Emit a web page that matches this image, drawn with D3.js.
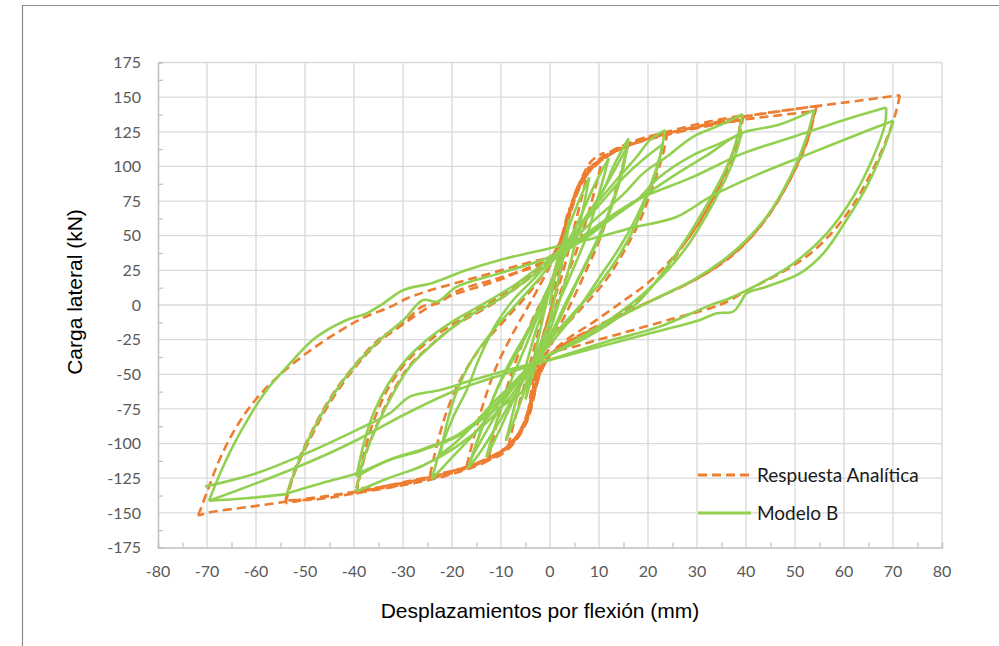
<!DOCTYPE html>
<html>
<head>
<meta charset="utf-8">
<script src="https://cdn.jsdelivr.net/npm/d3@7"></script>
<style>
  body { margin: 0; background: #fff; }
  svg { display: block; }
</style>
</head>
<body>
<svg id="chart" width="999" height="646"></svg>
<script>
// ---- data ----
var xTicks = [-80, -70, -60, -50, -40, -30, -20, -10, 0, 10, 20, 30, 40, 50, 60, 70, 80];
var yTicks = [-175, -150, -125, -100, -75, -50, -25, 0, 25, 50, 75, 100, 125, 150, 175];
var seriesNames = ['Respuesta Analítica', 'Modelo B'];

// Modelo B, one array per branch, in load order
var greenBranches = [
  [[0,0],[1.5,30],[3,48],[4,62]],
  [[4,62],[3,40],[1.5,15],[0,-10],[-2,-32],[-3.5,-50],[-5,-68]],
  [[-5,-68],[-3.5,-42],[-2,-18],[0,12],[2,38],[4,58],[6,76],[8,92]],
  [[8,92],[6.5,65],[4.5,35],[2.5,10],[0,-18],[-3,-42],[-5,-60],[-7,-80],[-9,-98]],
  [[-9,-98],[-7,-70],[-5,-45],[-3,-20],[0,12],[3,40],[6,62],[9,86],[12,106]],
  [[12,106],[10,80],[7.5,50],[4,20],[0,-12],[-4,-44],[-7,-65],[-10,-88],[-13,-110]],
  [[-13,-110],[-11,-85],[-8,-55],[-5,-30],[-1,5],[3,38],[7,62],[10.9,82.9],[12.9,99.7],[16,120.2]],
  [[16,120.2],[15,100],[13,75],[10,48],[6,20],[2,-10],[-2,-38],[-5,-52],[-8,-70],[-11,-88],[-14,-105],[-16.7,-117.8]],
  [[-16.7,-117.8],[-14,-90],[-11,-62],[-8,-40],[-4,-15],[0,15],[4,42],[8,66],[12,90],[15.6,113]],
  [[15.6,113],[14,88],[11,58],[7,28],[3,0],[0,-22],[-4,-45],[-8,-62],[-12,-85],[-16,-110]],
  [[-16,-110],[-13,-80],[-10,-55],[-6,-30],[-2,-2],[2,30],[6,55],[10,75],[14,92],[17.7,107],[20.4,119],[23.5,126.2]],
  [[23.5,126.2],[22.4,107],[20.4,85.3],[17.7,63.7],[14.3,42],[10.2,20.4],[6.1,-1.2],[2,-20],[-3,-40],[-8,-60],[-12,-78],[-16,-95],[-20,-110],[-24.1,-125.7]],
  [[-24.1,-125.7],[-22.4,-104.6],[-19.7,-80.5],[-17,-61.3],[-14.3,-37.3],[-10.9,-13.2],[-7.5,3.6],[-3,20],[1,36],[5,52],[10,72],[15,92],[19,105],[23,116]],
  [[23,116],[22,100],[20,80],[17.5,58],[14,35],[10,15],[5,-5],[0,-25],[-4,-43],[-8,-58],[-12,-72],[-16,-88],[-19.5,-100],[-22.4,-108]],
  [[-22.4,-108],[-21,-85],[-19,-62],[-16,-40],[-12,-20],[-7,0],[-2,20],[2,38],[8,58],[15,80],[19,95],[23.8,107],[29.2,121.4],[34.7,129.8],[39.3,137.7]],
  [[39.3,137.7],[38.1,119],[36.1,99.7],[33.3,80.5],[30.6,63.7],[27.2,44.5],[22.4,20.4],[17.7,1.2],[12.2,-13.2],[6,-26],[0,-36],[-4,-45],[-8,-66],[-13,-85],[-19,-102],[-26,-116],[-33,-125],[-39.5,-134.6]],
  [[-39.5,-134.6],[-38.1,-111.8],[-35.4,-87.8],[-32,-63.7],[-28.6,-44.5],[-24.5,-30],[-19.7,-15.6],[-15.6,-6],[-10,5],[-4,20],[2,36],[8,50],[13,64],[17.7,75.7],[22.4,92.5],[29.2,108.2],[34.7,116.6],[39.1,123.8]],
  [[39.1,123.8],[37.5,105],[35,85],[32,65],[28.5,45],[24,25],[19,8],[14,-6],[8,-20],[2,-32],[-4,-44],[-8,-60],[-13,-78],[-19,-94],[-26,-104],[-33,-112],[-39.5,-123.8]],
  [[-39.5,-123.8],[-38,-100],[-36,-78],[-33,-57],[-29,-38],[-24,-22],[-19,-10],[-13,2],[-7,15],[-2,28],[2,38],[10,56],[18,76],[26,95],[32,108],[39.1,124],[46.7,130],[53.9,140.6]],
  [[53.9,140.6],[52.4,121.4],[50.3,102.2],[47.6,82.9],[44.2,63.7],[40.1,46.9],[35.4,32.5],[29.2,18],[22.4,6],[15.6,-6],[8,-20],[2,-32],[-4,-44],[-5.4,-61.3],[-12.2,-78.1],[-19,-95],[-25.9,-104.6],[-32.7,-111.8],[-39.4,-121.4],[-47,-129],[-53.7,-136]],
  [[-53.7,-136],[-51.7,-116.6],[-49,-95],[-44.9,-68.5],[-39.4,-42],[-34,-22.9],[-29.9,-10.8],[-25.9,3.6],[-23,2.4],[-19,13.2],[-10.2,23],[0,34.8],[6,48],[12,63],[17.7,75.7],[29.2,92.5],[39.4,109.4],[49.7,121.4],[59.9,133.4],[68.6,142.5]],
  [[68.6,142.5],[68.4,131],[66,107],[61.9,78.1],[56.5,51.7],[49.7,30],[42.9,15.6],[37.4,6],[32,-1.2],[22.4,-15.6],[12,-26],[3,-36],[-4,-44],[-19,-61.3],[-29.2,-78.1],[-39.4,-97.4],[-49.7,-114.2],[-59.9,-128.6],[-69.6,-141.3]],
  [[-69.6,-141.3],[-62,-139.5],[-53.7,-136.5]],
  [[-69.6,-141.3],[-66.7,-116.6],[-63.3,-92.5],[-57.8,-61.3],[-53,-42],[-48,-24],[-41.5,-10.8],[-37.4,-6],[-34,1.2],[-29.9,10.8],[-24,15.9],[-17,25.2],[-10.2,32.5],[0,41],[10.2,49.3],[16.3,55.3],[25.9,63.7],[32.7,78.1],[42.9,95],[53.1,109.4],[63.3,123.8],[70.1,132.9]],
  [[70.1,132.9],[68,111.8],[64.6,85.3],[60.5,61.3],[55.8,37.3],[51,22.8],[44.2,13.2],[40.1,8.4],[38.8,1.2],[37.4,-4.8],[34,-6],[30.6,-10.8],[20.4,-20.4],[10.2,-30],[0,-39.7],[-6.1,-44.5],[-15.6,-54],[-22.4,-61.3],[-28.6,-66.1],[-32.7,-78.1],[-39.4,-90.1],[-49.7,-107],[-59.9,-121.4],[-70.4,-131]]
];

// Respuesta Analitica, one array per branch
var orangeBranches = [
  [[0,0],[1,20],[2,40],[3,58],[4,70]],
  [[4,70],[3,45],[2,20],[0.5,0],[-1,-20],[-2.5,-45],[-3.5,-62],[-4.5,-78]],
  [[-4.5,-78],[-3.5,-55],[-2,-30],[0,-5],[1.5,20],[2.5,40],[4,65],[6,85],[8,100]],
  [[8,100],[6.5,78],[4.5,50],[2.5,22],[0,-5],[-2,-30],[-3,-50],[-4,-70],[-6,-90],[-8.5,-102]],
  [[-8.5,-102],[-7,-80],[-5,-55],[-3,-28],[-1,0],[1,25],[2.5,45],[4,68],[6,88],[8.5,104],[11,110]],
  [[11,110],[9.5,88],[7.5,62],[5,35],[2,8],[0,-15],[-2,-40],[-3,-58],[-4.5,-78],[-7,-96],[-10,-106],[-12.5,-110]],
  [[-12.5,-110],[-11,-88],[-9,-62],[-6.5,-36],[-3.5,-10],[0,15],[2,36],[3.5,58],[5,78],[7.5,95],[10.5,106],[13,111],[16,116]],
  [[16,116],[14.5,96],[12.5,72],[10,46],[6.5,18],[3,-8],[0,-28],[-2,-45],[-3,-62],[-4.5,-82],[-7,-98],[-10,-108],[-13.5,-113],[-17,-116]],
  [[-17,-116],[-15.5,-95],[-13.5,-70],[-11,-45],[-7.5,-20],[-3.5,5],[0,28],[2.5,45],[4,68],[6,88],[9,102],[13,112],[18,119],[24,125]],
  [[24,125],[23,108],[21,86],[18.5,62],[15,38],[11,16],[6,-4],[1,-24],[-1.5,-42],[-3,-60],[-4.5,-80],[-7,-96],[-11,-108],[-17,-117],[-24.5,-123]],
  [[-24.5,-123],[-23,-100],[-21,-76],[-18,-52],[-14,-30],[-9,-10],[-4,10],[0,30],[2.5,48],[4.5,72],[7,92],[11,107],[17,118],[25,126],[32,132],[39.5,137]],
  [[39.5,137],[38.3,118],[36.3,98],[33.5,78],[30.6,60],[27,42],[22.5,20],[17.5,2],[12,-12],[6,-24],[1,-34],[-2,-48],[-3.5,-66],[-5,-84],[-8,-100],[-13,-111],[-20,-120],[-28,-127],[-34,-131],[-39.5,-136]],
  [[-39.5,-136],[-38,-112],[-35.5,-88],[-32,-62],[-28.5,-43],[-24,-28],[-19,-14],[-13,-2],[-7,12],[-2,26],[1,38],[3,55],[5,78],[8,96],[13,110],[20,120],[28,127],[34,131],[39,133]],
  [[39,133],[37.8,115],[35.5,94],[32.5,72],[29,52],[25,34],[20,16],[15,3],[9,-12],[3,-26],[0,-36],[-2,-50],[-3.5,-68],[-5,-86],[-8,-101],[-13,-112],[-20,-121],[-28,-128],[-34,-132],[-39.5,-132]],
  [[-39.5,-132],[-38,-108],[-36,-84],[-33,-60],[-29,-40],[-24,-24],[-18,-10],[-12,2],[-6,16],[-1,30],[1.5,42],[3.5,62],[6,86],[9,101],[14,112],[21,121],[29,128],[39.5,136],[47,140],[54.4,143.5]],
  [[54.4,143.5],[53,124],[50.8,104],[48,84],[44.5,64],[40.5,47],[36,33],[30,19],[23,7],[16,-5],[9,-17],[3,-28],[0,-36],[-2,-48],[-3.5,-66],[-5,-84],[-8,-100],[-13,-112],[-21,-122],[-30,-129],[-40,-135],[-47,-139],[-54,-143]],
  [[-54,-143],[-52,-120],[-49,-97],[-45,-71],[-40,-46],[-35,-27],[-30,-14],[-25,-2],[-20,7],[-12,16],[-5,26],[0,34],[2,45],[4,66],[6.5,88],[10,104],[16,115],[24,123],[32,129],[40,134],[47,137],[54,140]],
  [[54,140],[52.8,121],[50.5,101],[47.5,81],[44,62],[40,45],[35.5,31],[29.5,18],[22.5,6],[15,-6],[8,-18],[2.5,-29],[0,-36],[-2,-49],[-3.5,-67],[-5,-85],[-8,-101],[-13,-113],[-21,-123],[-30,-130],[-40,-136],[-47,-140],[-54,-141]],
  [[-54,-141],[-52,-118],[-49,-94],[-45,-68],[-40,-44],[-35,-25],[-30,-13],[-26,-1],[-23,1],[-19,10],[-10,20],[0,33],[2,45],[4,65],[6.5,88],[10,104],[16,115],[24,123],[32,130],[40,136],[54.4,143.5],[62,147],[71.4,151.4]],
  [[71.4,151.4],[70.5,138],[68.5,118],[65.5,95],[62,73],[57.5,52],[52,34],[46,21],[40.5,11],[36.5,3],[33,-2],[25,-10],[15,-20],[6,-29],[0,-36],[-2,-48],[-3.5,-66],[-5,-84],[-8,-100],[-13,-112],[-20,-120],[-30,-128],[-40,-135],[-48,-139],[-54,-142],[-61,-145.5],[-70,-150],[-71.8,-152]],
  [[-71.8,-152],[-70,-135],[-67.5,-112],[-64,-88],[-60,-68],[-55,-50],[-49,-33],[-43,-19],[-38,-9],[-33,-2],[-29,5],[-25,10],[-15,20],[-5,30],[0,35],[2,40]]
];

// ---- layout ----
var svg = d3.select('#chart');
var plot = { left: 158, right: 942, top: 62.5, bottom: 547.5 };

var x = d3.scaleLinear().domain([-80, 80]).range([plot.left, plot.right]);
var y = d3.scaleLinear().domain([-175, 175]).range([plot.bottom, plot.top]);

// outer chart frame (cut by the screenshot)
svg.append('path')
  .attr('d', 'M22.5,646 V5.5 H999')
  .attr('fill', 'none')
  .attr('stroke', '#8c8c8c')
  .attr('stroke-width', 1.2);

// gridlines
var grid = svg.append('g');
grid.selectAll('.gx')
  .data(xTicks.slice(1))
  .enter().append('line')
  .attr('x1', function (d) { return x(d); })
  .attr('x2', function (d) { return x(d); })
  .attr('y1', plot.top).attr('y2', plot.bottom)
  .attr('stroke', '#d9d9d9').attr('stroke-width', 1.3);
grid.selectAll('.gy')
  .data(yTicks.slice(1))
  .enter().append('line')
  .attr('x1', plot.left).attr('x2', plot.right)
  .attr('y1', function (d) { return y(d); })
  .attr('y2', function (d) { return y(d); })
  .attr('stroke', '#d9d9d9').attr('stroke-width', 1.3);

// axes (left and bottom), minor ticks pointing inside
var xAxis = d3.axisBottom(x)
  .tickValues(d3.range(-75, 80, 10))
  .tickSize(-5).tickFormat('');
var yAxis = d3.axisLeft(y)
  .tickValues(d3.range(-162.5, 175, 25))
  .tickSize(-5).tickFormat('');

var gx = svg.append('g')
  .attr('transform', 'translate(0,' + plot.bottom + ')')
  .call(xAxis);
var gy = svg.append('g')
  .attr('transform', 'translate(' + plot.left + ',0)')
  .call(yAxis);
[gx, gy].forEach(function (g) {
  g.select('.domain').attr('stroke', '#bfbfbf').attr('stroke-width', 1.5);
  g.selectAll('.tick line').attr('stroke', '#bfbfbf').attr('stroke-width', 1.2);
});

// tick labels
svg.append('g').selectAll('text')
  .data(xTicks)
  .enter().append('text')
  .attr('x', function (d) { return x(d); })
  .attr('y', 577)
  .attr('text-anchor', 'middle')
  .style('font-family', 'Lato, "Open Sans", sans-serif')
  .style('font-size', '16px')
  .style('fill', '#595959')
  .text(function (d) { return String(d); });

svg.append('g').selectAll('text')
  .data(yTicks)
  .enter().append('text')
  .attr('x', 141)
  .attr('y', function (d) { return y(d); })
  .attr('dy', '0.36em')
  .attr('text-anchor', 'end')
  .style('font-family', 'Lato, "Open Sans", sans-serif')
  .style('font-size', '16px')
  .style('fill', '#595959')
  .text(function (d) { return String(d); });

// axis titles
svg.append('text')
  .attr('x', 540).attr('y', 618)
  .attr('text-anchor', 'middle')
  .style('font-family', '"Liberation Sans", Arial, sans-serif')
  .style('font-size', '21px')
  .style('fill', '#000')
  .text('Desplazamientos por flexión (mm)');

svg.append('text')
  .attr('transform', 'translate(82,292) rotate(-90)')
  .attr('text-anchor', 'middle')
  .style('font-family', '"Liberation Sans", Arial, sans-serif')
  .style('font-size', '21px')
  .style('fill', '#000')
  .text('Carga lateral (kN)');

// series
var line = d3.line()
  .x(function (d) { return x(d[0]); })
  .y(function (d) { return y(d[1]); })
  .curve(d3.curveCatmullRom.alpha(0.5));

svg.append('g').selectAll('path')
  .data(orangeBranches)
  .enter().append('path')
  .attr('d', line)
  .attr('fill', 'none')
  .attr('stroke', '#ed7d31')
  .attr('stroke-width', 2.6)
  .attr('stroke-dasharray', '9,5');

svg.append('g').selectAll('path')
  .data(greenBranches)
  .enter().append('path')
  .attr('d', line)
  .attr('fill', 'none')
  .attr('stroke', '#92d050')
  .attr('stroke-width', 2.6)
  .attr('stroke-linejoin', 'round');

// legend
var legend = svg.append('g');
var legendRows = [
  { name: seriesNames[0], color: '#ed7d31', dash: '9,5', y: 475 },
  { name: seriesNames[1], color: '#92d050', dash: null, y: 513 }
];
legendRows.forEach(function (r) {
  legend.append('line')
    .attr('x1', 698).attr('x2', 751)
    .attr('y1', r.y).attr('y2', r.y)
    .attr('stroke', r.color)
    .attr('stroke-width', 2.8)
    .attr('stroke-dasharray', r.dash);
  legend.append('text')
    .attr('x', 757).attr('y', r.y + 7)
    .style('font-family', 'Lato, "Open Sans", sans-serif')
    .style('font-size', '19px')
    .style('fill', '#1a1a1a')
    .text(r.name);
});
</script>
</body>
</html>
